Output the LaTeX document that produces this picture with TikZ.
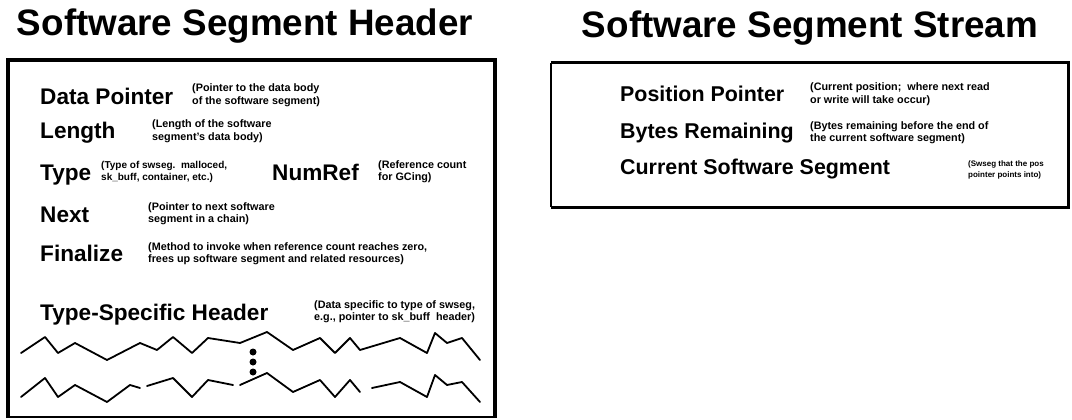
\documentclass[tikz,border=0pt]{standalone}
\usepackage{fontspec}
\setmainfont{Liberation Sans}
% two-line caption whose base anchor is the first line's baseline
\newcommand\twoline[2]{\begin{tabular}[t]{@{}l@{}}#1\\#2\end{tabular}}
\begin{document}
\begin{tikzpicture}[x=1pt,y=-1pt,
  heading/.style={font=\fontsize{36.8}{40}\selectfont\bfseries, inner sep=0, anchor=base},
  field/.style={font=\fontsize{22.6}{26}\selectfont\bfseries, inner sep=0, anchor=base west},
  sfield/.style={field, font=\fontsize{21.4}{26}\selectfont\bfseries},
  note/.style={font=\fontsize{10.8}{12.5}\selectfont\bfseries, inner sep=0, anchor=base west},
  smallnote/.style={note, font=\fontsize{10}{12}\selectfont\bfseries},
  tinynote/.style={note, font=\fontsize{8}{11}\selectfont\bfseries},
  zig/.style={line width=1.8pt, line join=round, line cap=round}
]
\useasboundingbox (0,0) rectangle (1072,420);

% headings
\node[heading] (hdrTitle) at (245,36) {Software Segment Header};
\node[heading] (strTitle) at (810,38) {Software Segment Stream};

% header frame
\draw[line width=3.5pt] (8,418) -- (8,60) -- (495,60) -- (495,418);
\draw[line width=2pt] (6,416.5) -- (497,416.5);

% stream frame
\draw[line width=3pt] (551,63) -- (1068,63) -- (1068,207) -- (551,207);
\draw[line width=1.5pt] (551,63) -- (551,207);

% header fields
\node[field] (dp) at (40,104) {Data Pointer};
\node[note] (dpN) at (192,92) {\twoline{(Pointer to the data body}{of the software segment)}};
\node[field] (len) at (40,139) {Length};
\node[note] (lenN) at (152,128) {\twoline{(Length of the software}{segment’s data body)}};
\node[field] (typ) at (40,180) {Type};
\node[smallnote] (typN) at (101,168) {\twoline{(Type of swseg.\ \ malloced,}{sk\_buff, container, etc.)}};
\node[field] (nref) at (272,180) {NumRef};
\node[note] (nrefN) at (378,168) {\twoline{(Reference count}{for GCing)}};
\node[field] (nxt) at (40,222) {Next};
\node[note] (nxtN) at (148,210) {\twoline{(Pointer to next software}{segment in a chain)}};
\node[field] (fin) at (40,261) {Finalize};
\node[note] (finN) at (148,250) {\twoline{(Method to invoke when reference count reaches zero,}{frees up software segment and related resources)}};
\node[field] (tsh) at (40,320) {Type-Specific Header};
\node[note] (tshN) at (314,308) {\twoline{(Data specific to type of swseg,}{e.g., pointer to sk\_buff\ \ header)}};

% torn body of the type-specific data
\draw[zig] (21,353) -- (45,337) -- (58,353) -- (75,343) -- (107,360) -- (140,343)
  -- (157,350) -- (173,337) -- (192,353) -- (208,338) -- (240,343) -- (267,332)
  -- (293,350) -- (320,338) -- (335,353) -- (350,338) -- (360,350) -- (400,338)
  -- (427,353) -- (435,333) -- (447,343) -- (462,338) -- (480,360);
\draw[zig] (21,397) -- (45,378) -- (58,397) -- (75,385) -- (107,402) -- (130,385) -- (140,388);
\draw[zig] (147,386) -- (173,378) -- (192,397) -- (208,380) -- (233,385);
\draw[zig] (240,385) -- (267,373) -- (293,392) -- (320,380) -- (335,397) -- (350,380) -- (360,392);
\draw[zig] (372,388) -- (400,382) -- (427,397) -- (435,375) -- (447,385) -- (462,382) -- (480,402);
\fill (253,352) circle (3.5) (253,362) circle (3.5) (253,372) circle (3.5);

% stream fields
\node[sfield] (pp) at (620,102) {Position Pointer};
\node[note] (ppN) at (810,91) {\twoline{(Current position;\ \ where next read}{or write will take occur)}};
\node[sfield] (br) at (620,139) {Bytes Remaining};
\node[note] (brN) at (810,129) {\twoline{(Bytes remaining before the end of}{the current software segment)}};
\node[sfield] (css) at (620,175) {Current Software Segment};
\node[tinynote] (cssN) at (968,166) {\twoline{(Swseg that the pos}{pointer points into)}};
\end{tikzpicture}
\end{document}
